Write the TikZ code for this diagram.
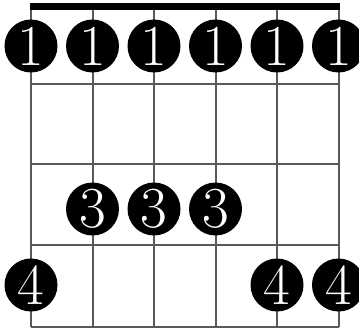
\documentclass[tikz,border=0pt]{standalone}
\begin{document}
\begin{tikzpicture}[x=1pt,y=-1pt,
  gridline/.style={draw=black!65,line width=2pt},
  fing/.style={circle,fill=black,minimum size=53pt,inner sep=0pt,text=white,font=\fontsize{58}{58}\selectfont}]
\useasboundingbox (0,0) rectangle (359,329);
\clip (0,0) rectangle (359,329);
% strings
\foreach \x in {31,92.5,154,215.5,277,338.5} \draw[gridline] (\x,10) -- (\x,327);
% frets
\foreach \y in {84,164,245,327} \draw[gridline] (31,\y) -- (338.5,\y);
% nut
\fill[black] (30,3) rectangle (339.5,10);
% fingers
\node[fing] (a1) at (31,46) {1};
\node[fing] (a2) at (92.5,46) {1};
\node[fing] (a3) at (154,46) {1};
\node[fing] (a4) at (215.5,46) {1};
\node[fing] (a5) at (277,46) {1};
\node[fing] (a6) at (338.5,46) {1};
\node[fing] (b2) at (92.5,209) {3};
\node[fing] (b3) at (154,209) {3};
\node[fing] (b4) at (215.5,209) {3};
\node[fing] (c1) at (31,285) {4};
\node[fing] (c5) at (277,285) {4};
\node[fing] (c6) at (338.5,285) {4};
\end{tikzpicture}
\end{document}
